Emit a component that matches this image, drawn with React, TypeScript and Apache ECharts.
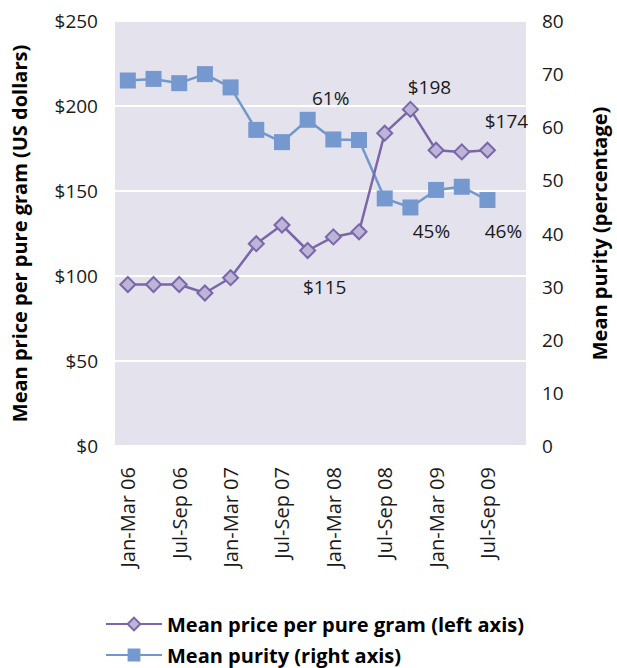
import React, { useEffect, useRef } from "react";
import * as echarts from "echarts";

const categories = [
  "Jan-Mar 06", "Apr-Jun 06", "Jul-Sep 06", "Oct-Dec 06",
  "Jan-Mar 07", "Apr-Jun 07", "Jul-Sep 07", "Oct-Dec 07",
  "Jan-Mar 08", "Apr-Jun 08", "Jul-Sep 08", "Oct-Dec 08",
  "Jan-Mar 09", "Apr-Jun 09", "Jul-Sep 09", "Oct-Dec 09",
];
const priceValues: (number | null)[] = [95, 95, 95, 90, 99, 119, 130, 115, 123, 126, 184, 198, 174, 173, 174, null];
const purityValues: (number | null)[] = [68.8, 69.1, 68.3, 70.0, 67.5, 59.5, 57.2, 61.4, 57.7, 57.6, 46.6, 44.9, 48.2, 48.8, 46.3, null];
const leftTicks = [0, 50, 100, 150, 200, 250];
const rightTicks = [0, 10, 20, 30, 40, 50, 60, 70, 80];
const priceLabelIdx = [7, 11, 14];
const purityLabelIdx = [7, 11, 14];
const seriesNames = ["Mean price per pure gram (left axis)", "Mean purity (right axis)"];

const FONT = "'Open Sans', 'Noto Sans', sans-serif";
const PRICE_LINE = "#7a66a8";
const PRICE_FILL = "#bdb5d8";
const PURITY_LINE = "#6f98cc";
const PURITY_FILL = "#7599cf";

const priceLabelStyle: Record<number, any> = {
  7: { position: "bottom", distance: 18, offset: [17, 0] },
  11: { position: "top", distance: 4, offset: [19, 0] },
  14: { position: "top", distance: 11, offset: [19, 0] },
};
const purityLabelStyle: Record<number, any> = {
  7: { position: "top", distance: 4, offset: [23, 0] },
  11: { position: "bottom", distance: 6, offset: [21, 0] },
  14: { position: "bottom", distance: 13, offset: [16, 0] },
};

export default function App() {
  const ref = useRef<HTMLDivElement>(null);
  useEffect(() => {
    if (!ref.current) return;
    const chart = echarts.init(ref.current, null, { renderer: "svg" });
    const labelText = { fontFamily: FONT, fontSize: 19, color: "#1a1a1a" };
    const priceData = priceValues.map((v, i) =>
      priceLabelIdx.includes(i)
        ? { value: v, label: { show: true, formatter: "${c}", ...labelText, ...priceLabelStyle[i] } }
        : v
    );
    const purityData = purityValues.map((v, i) =>
      purityLabelIdx.includes(i)
        ? {
            value: v,
            label: {
              show: true,
              formatter: (p: any) => Math.round(p.value) + "%",
              ...labelText,
              ...purityLabelStyle[i],
            },
          }
        : v
    );
    const legendText = { fontFamily: FONT, fontSize: 20, fontWeight: "bold", color: "#000" };
    const titleText = { fontFamily: FONT, fontSize: 20, fontWeight: "bold", color: "#000" };
    chart.setOption({
      animation: false,
      grid: {
        left: 115,
        right: 77,
        top: 21,
        bottom: 222,
        show: true,
        backgroundColor: "#e4e2ed",
        borderWidth: 0,
      },
      legend: [
        {
          left: 105,
          top: 614,
          padding: 0,
          itemWidth: 56,
          itemHeight: 16,
          itemGap: 5,
          textStyle: legendText,
          data: [seriesNames[0]],
        },
        {
          left: 105,
          top: 645,
          padding: 0,
          itemWidth: 56,
          itemHeight: 16,
          itemGap: 5,
          textStyle: legendText,
          data: [seriesNames[1]],
        },
      ],
      xAxis: {
        type: "category",
        data: categories,
        boundaryGap: true,
        axisLine: { show: false },
        axisTick: { show: false },
        axisLabel: {
          interval: 1,
          rotate: 90,
          margin: 21,
          fontFamily: FONT,
          fontSize: 20,
          color: "#1a1a1a",
        },
      },
      yAxis: [
        {
          type: "value",
          min: leftTicks[0],
          max: leftTicks[leftTicks.length - 1],
          interval: 50,
          position: "left",
          name: "Mean price per pure gram (US dollars)",
          nameLocation: "middle",
          nameGap: 86,
          nameTextStyle: titleText,
          axisLine: { show: false },
          axisTick: { show: false },
          axisLabel: {
            margin: 17,
            fontFamily: FONT,
            fontSize: 19,
            color: "#1a1a1a",
            formatter: (v: number) => "$" + v,
          },
          splitLine: { show: true, lineStyle: { color: "#ffffff", width: 2 } },
        },
        {
          type: "value",
          min: rightTicks[0],
          max: rightTicks[rightTicks.length - 1],
          interval: 10,
          position: "right",
          name: "Mean purity (percentage)",
          nameLocation: "middle",
          nameGap: 63,
          nameTextStyle: titleText,
          axisLine: { show: false },
          axisTick: { show: false },
          axisLabel: { margin: 16, fontFamily: FONT, fontSize: 19, color: "#1a1a1a" },
          splitLine: { show: false },
        },
      ],
      series: [
        {
          name: seriesNames[0],
          type: "line",
          yAxisIndex: 0,
          data: priceData,
          symbol: "diamond",
          symbolSize: 15,
          lineStyle: { color: PRICE_LINE, width: 2.5 },
          itemStyle: { color: PRICE_FILL, borderColor: PRICE_LINE, borderWidth: 2 },
          z: 3,
        },
        {
          name: seriesNames[1],
          type: "line",
          yAxisIndex: 1,
          data: purityData,
          symbol: "rect",
          symbolSize: 16,
          lineStyle: { color: PURITY_LINE, width: 2.5 },
          itemStyle: { color: PURITY_FILL, borderColor: PURITY_FILL, borderWidth: 0 },
          z: 2,
        },
      ],
    });
    return () => chart.dispose();
  }, []);
  return <div ref={ref} style={{ width: 617, height: 668, position: "absolute", left: 0, top: 0 }} />;
}
